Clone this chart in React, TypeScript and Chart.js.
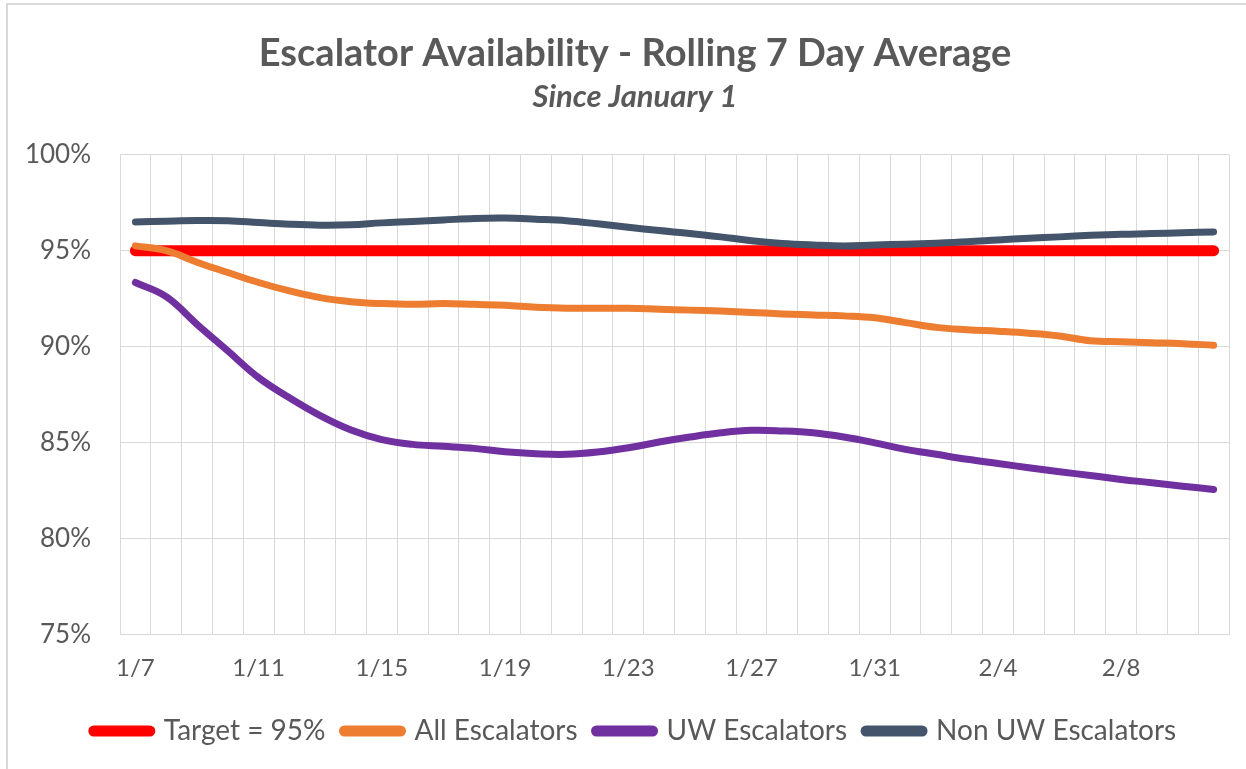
import React, { useEffect, useRef } from "react";
import { Chart, registerables } from "chart.js";

Chart.register(...registerables);

const dateLabels = [
  "1/7", "1/8", "1/9", "1/10", "1/11", "1/12", "1/13", "1/14", "1/15", "1/16",
  "1/17", "1/18", "1/19", "1/20", "1/21", "1/22", "1/23", "1/24", "1/25", "1/26",
  "1/27", "1/28", "1/29", "1/30", "1/31", "2/1", "2/2", "2/3", "2/4", "2/5",
  "2/6", "2/7", "2/8", "2/9", "2/10", "2/11",
];

const targetValues = [
  95, 95, 95, 95, 95, 95, 95, 95, 95, 95, 95, 95, 95, 95, 95, 95, 95, 95,
  95, 95, 95, 95, 95, 95, 95, 95, 95, 95, 95, 95, 95, 95, 95, 95, 95, 95,
];

const allEscalators = [
  95.25, 95.0, 94.4, 93.86, 93.34, 92.9, 92.55, 92.34, 92.24, 92.2,
  92.25, 92.2, 92.15, 92.05, 92.0, 92.0, 92.0, 91.95, 91.9, 91.85,
  91.78, 91.7, 91.65, 91.6, 91.5, 91.25, 91.0, 90.88, 90.8, 90.7,
  90.55, 90.3, 90.25, 90.2, 90.15, 90.07,
];

const uwEscalators = [
  93.34, 92.6, 91.16, 89.77, 88.38, 87.33, 86.4, 85.65, 85.15, 84.9,
  84.8, 84.69, 84.51, 84.41, 84.38, 84.5, 84.72, 85.02, 85.28, 85.5,
  85.63, 85.6, 85.5, 85.28, 84.98, 84.64, 84.38, 84.12, 83.9, 83.68,
  83.47, 83.28, 83.07, 82.9, 82.72, 82.55,
];

const nonUwEscalators = [
  96.5, 96.54, 96.57, 96.56, 96.47, 96.38, 96.33, 96.35, 96.45, 96.52,
  96.6, 96.68, 96.7, 96.64, 96.56, 96.4, 96.22, 96.05, 95.9, 95.72,
  95.52, 95.38, 95.3, 95.25, 95.3, 95.34, 95.39, 95.46, 95.56, 95.65,
  95.72, 95.8, 95.86, 95.89, 95.94, 95.98,
];

const yTicks = [75, 80, 85, 90, 95, 100];

const FONT = "Lato, 'Open Sans', sans-serif";
const TEXT = "#595959";
const GRID = "#d9d9d9";

const frameHelpers = {
  id: "frameHelpers",
  afterLayout(chart: any) {
    // let the y tick labels use the left padding so "100%" is not clipped
    const y = chart.scales.y;
    if (y) y.left = 0;
  },
  beforeDatasetsDraw(chart: any) {
    const { ctx, chartArea } = chart;
    ctx.save();
    ctx.strokeStyle = GRID;
    ctx.lineWidth = 1;
    ctx.beginPath();
    ctx.moveTo(chartArea.right + 0.5, chartArea.top);
    ctx.lineTo(chartArea.right + 0.5, chartArea.bottom);
    ctx.stroke();
    ctx.restore();
  },
};

export default function App() {
  const ref = useRef<HTMLCanvasElement | null>(null);

  useEffect(() => {
    if (!ref.current) return;
    const mk = (label: string, data: number[], color: string, width: number, order: number) => ({
      label,
      data,
      borderColor: color,
      backgroundColor: color,
      borderWidth: width,
      borderCapStyle: "round",
      borderJoinStyle: "round",
      pointRadius: 0,
      pointHoverRadius: 0,
      tension: 0.4,
      fill: false,
      order,
    });
    const chart = new Chart(ref.current, {
      type: "line",
      data: {
        labels: dateLabels,
        datasets: [
          mk("Target = 95%", targetValues, "#ff0000", 11, 4),
          mk("All Escalators", allEscalators, "#ed7d31", 7, 3),
          mk("UW Escalators", uwEscalators, "#7030a0", 7, 2),
          mk("Non UW Escalators", nonUwEscalators, "#44546a", 7, 1),
        ] as any,
      },
      plugins: [frameHelpers],
      options: {
        responsive: false,
        animation: false,
        layout: { padding: { top: 27, right: 34, bottom: 14, left: 34 } },
        plugins: {
          tooltip: { enabled: false },
          title: {
            display: true,
            text: "Escalator Availability - Rolling 7 Day Average",
            color: TEXT,
            font: { family: FONT, size: 38, weight: "bold", lineHeight: 1.2 },
            padding: { top: 0, bottom: 0 },
          },
          subtitle: {
            display: true,
            text: "Since January 1",
            color: TEXT,
            font: { family: FONT, size: 31, style: "italic", weight: "bold", lineHeight: 1.2 },
            padding: { top: 2, bottom: 39 },
          },
          legend: {
            position: "bottom",
            labels: {
              usePointStyle: true,
              pointStyle: "line",
              pointStyleWidth: 56,
              color: TEXT,
              font: { family: FONT, size: 28 },
              padding: 19,
              sort: (a: any, b: any) => a.datasetIndex - b.datasetIndex,
              generateLabels: (chart: any) => {
                const items = (Chart.defaults.plugins.legend.labels as any).generateLabels(chart);
                return items.map((it: any) => ({ ...it, lineWidth: 11, lineCap: "round" }));
              },
            },
          },
        },
        scales: {
          x: {
            offset: true,
            grid: { offset: true, color: GRID, lineWidth: 1, drawTicks: false },
            border: { color: GRID, width: 1 },
            afterFit: (scale: any) => {
              scale.height = scale.height - 5;
            },
            ticks: {
              autoSkip: false,
              maxRotation: 0,
              minRotation: 0,
              padding: 20,
              color: TEXT,
              font: { family: FONT, size: 24 },
              callback: (_v: any, i: number) => (i % 4 === 0 ? dateLabels[i] : ""),
            },
          },
          y: {
            min: yTicks[0],
            max: yTicks[yTicks.length - 1],
            grid: { color: GRID, lineWidth: 1, drawTicks: false },
            border: { color: GRID, width: 1 },
            afterBuildTicks: (scale: any) => {
              scale.ticks = yTicks.map((v) => ({ value: v }));
            },
            afterFit: (scale: any) => {
              scale.width = 79;
            },
            ticks: {
              padding: 29,
              color: TEXT,
              font: { family: FONT, size: 26 },
              callback: (v: any) => v + "%",
            },
          },
        },
      } as any,
    });
    return () => chart.destroy();
  }, []);

  return (
    <div style={{ position: "fixed", left: 0, top: 0, width: 1246, height: 769, overflow: "hidden", background: "#fff" }}>
      <div
        style={{
          position: "absolute",
          left: 6,
          top: 3,
          width: 1300,
          height: 800,
          borderLeft: "2px solid #d9d9d9",
          borderTop: "2px solid #d9d9d9",
        }}
      />
      <div style={{ position: "absolute", left: 7, top: 4, width: 1256, height: 765 }}>
        <canvas ref={ref} width={1256} height={765} style={{ display: "block" }} />
      </div>
    </div>
  );
}
